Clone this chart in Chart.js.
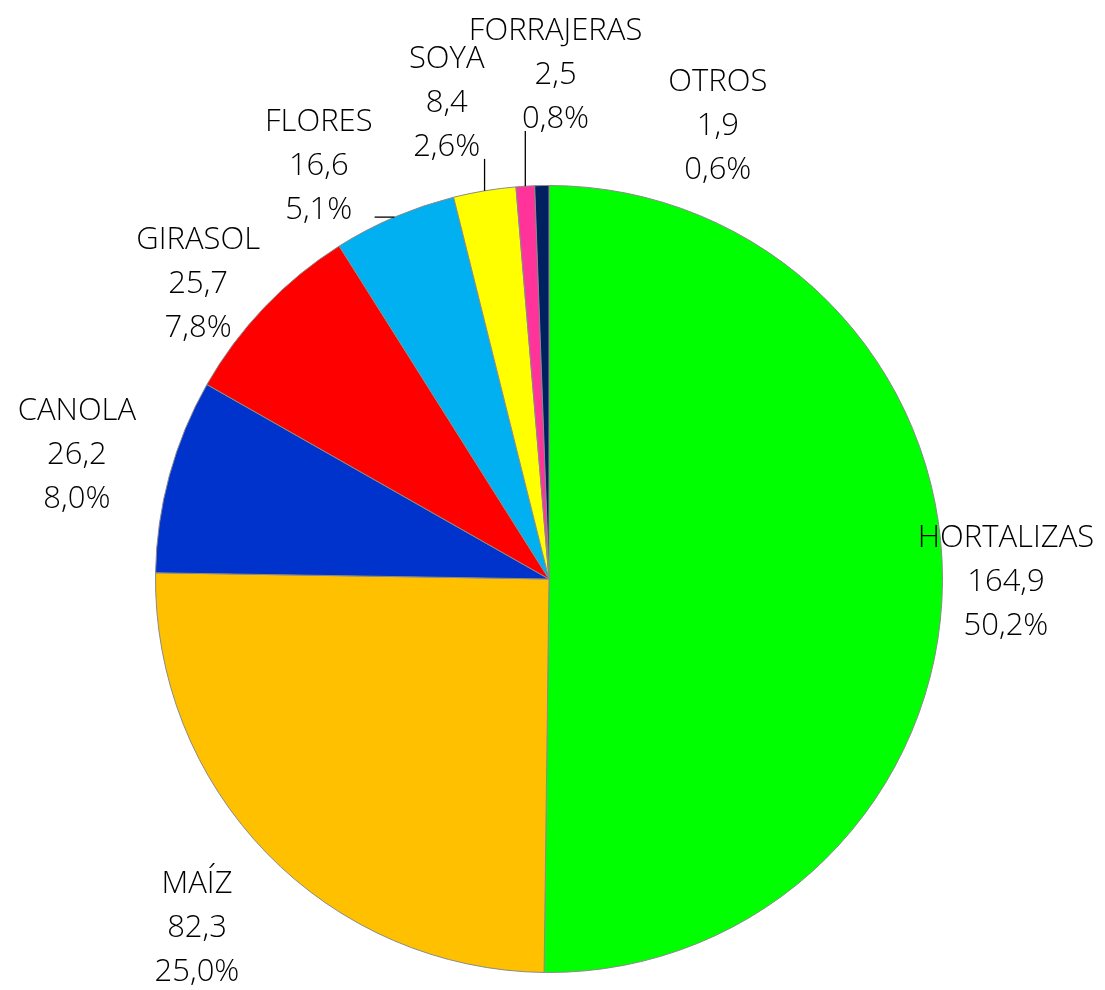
<!DOCTYPE html>
<html>
<head>
<meta charset="utf-8">
<script src="https://cdn.jsdelivr.net/npm/chart.js@4.4.1/dist/chart.umd.min.js"></script>
<style>
  html, body { margin: 0; padding: 0; background: #ffffff; }
  #wrap { width: 1105px; height: 990px; }
</style>
</head>
<body>
<div id="wrap"><canvas id="c" width="1105" height="990"></canvas></div>
<script>
// ---- data ----
const categories = ['HORTALIZAS', 'MAÍZ', 'CANOLA', 'GIRASOL', 'FLORES', 'SOYA', 'FORRAJERAS', 'OTROS'];
const values = [164.9, 82.3, 26.2, 25.7, 16.6, 8.4, 2.5, 1.9];
const valueLabels = ['164,9', '82,3', '26,2', '25,7', '16,6', '8,4', '2,5', '1,9'];
const percentLabels = ['50,2%', '25,0%', '8,0%', '7,8%', '5,1%', '2,6%', '0,8%', '0,6%'];

// ---- styles ----
const colors = ['#00FF00', '#FFC000', '#0033CC', '#FF0000', '#00B0F0', '#FFFF00', '#FF3399', '#002060'];
// label layout: distance from centre (px) and angular nudge (deg) relative to slice middle
const labelDist = [457, 496, 488, 458, 473, 487, 504, 483];
const labelNudge = [0, -0.6, -0.6, -3.7, -6.0, -2.7, 4.2, 21.5];
const labelLeader = [false, false, false, false, true, true, true, false];

const FONT = '300 31px "Open Sans", "Noto Sans", sans-serif';
const LINE_H = 44;

const labelPlugin = {
  id: 'pieLabels',
  afterDatasetsDraw(chart) {
    const ctx = chart.ctx;
    const meta = chart.getDatasetMeta(0);
    ctx.save();
    ctx.font = FONT;
    ctx.fillStyle = '#000000';
    ctx.textAlign = 'center';
    ctx.textBaseline = 'middle';
    meta.data.forEach((arc, i) => {
      const p = arc.getProps(['x', 'y', 'startAngle', 'endAngle', 'outerRadius'], true);
      const mid = (p.startAngle + p.endAngle) / 2;
      const a = mid + labelNudge[i] * Math.PI / 180;
      const cx = p.x + Math.cos(a) * labelDist[i];
      const cy = p.y + Math.sin(a) * labelDist[i];
      const lines = [categories[i], valueLabels[i], percentLabels[i]];
      let w = 0;
      lines.forEach(t => { w = Math.max(w, ctx.measureText(t).width); });
      lines.forEach((t, k) => {
        ctx.fillText(t, cx, cy + (k - 1) * LINE_H);
      });
      if (labelLeader[i]) {
        const ex = p.x + Math.cos(mid) * p.outerRadius;
        const ey = p.y + Math.sin(mid) * p.outerRadius;
        const left = cx - w / 2 - 2, right = cx + w / 2 + 2;
        const top = cy - 1.5 * LINE_H + 4, bottom = cy + 1.5 * LINE_H - 10;
        const sx = Math.min(Math.max(ex, left), right);
        const sy = Math.min(Math.max(ey, top), bottom);
        ctx.beginPath();
        ctx.strokeStyle = '#000000';
        ctx.lineWidth = 1.3;
        ctx.moveTo(sx, sy);
        ctx.lineTo(ex, ey);
        ctx.stroke();
      }
    });
    ctx.restore();
  }
};

new Chart(document.getElementById('c'), {
  type: 'pie',
  data: {
    labels: categories,
    datasets: [{
      data: values,
      backgroundColor: colors,
      borderColor: '#8a8a8a',
      borderWidth: 1
    }]
  },
  options: {
    responsive: false,
    animation: false,
    layout: { padding: { top: 185, bottom: 17, left: 155, right: 162 } },
    plugins: {
      legend: { display: false },
      tooltip: { enabled: false }
    }
  },
  plugins: [labelPlugin]
});
</script>
</body>
</html>
